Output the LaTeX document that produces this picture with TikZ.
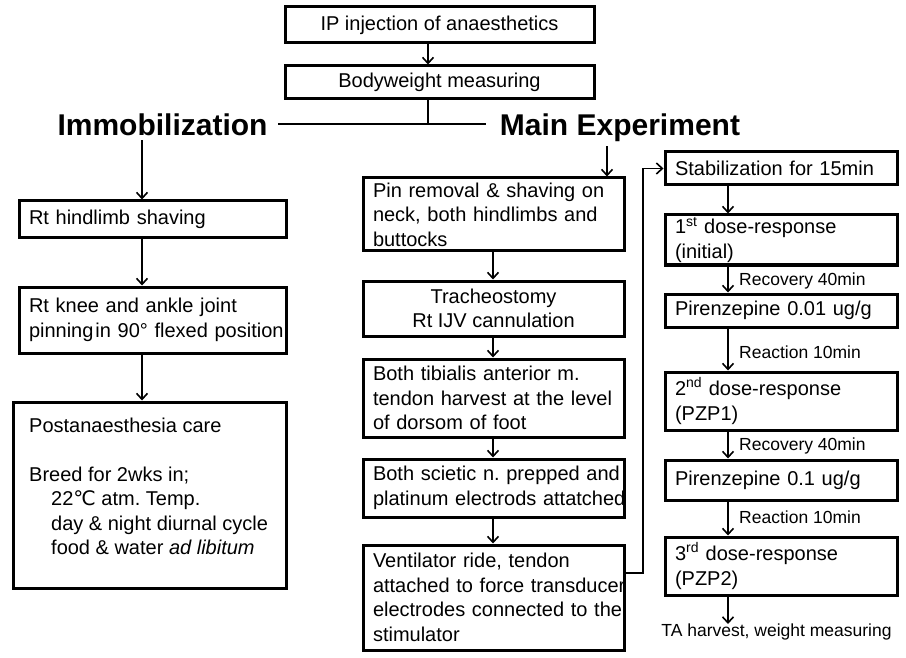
\documentclass[tikz,border=0pt]{standalone}
\usepackage{fontspec}
\setmainfont{Liberation Sans}
\newfontfamily\dejavu{DejaVu Sans}
\usetikzlibrary{arrows.meta}
\newcommand{\lineof}[1]{\mbox{#1}}
\frenchspacing
\begin{document}
\begin{tikzpicture}[x=1pt,y=-1pt,
  bodyfont/.style={font=\fontsize{20}{24.5}\selectfont},
  box/.style={draw, line width=3pt, inner xsep=10pt, inner ysep=0pt, bodyfont},
  cbox/.style={box, align=center},
  lbox/.style={box, align=left, text width=#1},
  head/.style={font=\fontsize{30}{36}\selectfont\bfseries, inner sep=4pt},
  txt/.style={bodyfont, align=left, inner sep=0pt},
  lab/.style={font=\fontsize{17.5}{21}\selectfont, inner sep=0pt},
  conn/.style={line width=1.8pt},
  arr/.style={conn, -{Straight Barb[length=6pt,width=11pt,line width=1.6pt]}}
]
\useasboundingbox (0,0) rectangle (906,658);

% top
\node[cbox, minimum width=309pt, minimum height=36pt] (ip) at (439.5,25) {IP injection of anaesthetics};
\node[cbox, minimum width=309pt, minimum height=33pt] (bw) at (439.5,82.5) {Bodyweight measuring};
\node[head, anchor=base] (imm) at (162.5,136) {Immobilization};
\node[head, anchor=base] (main) at (620,136) {Main Experiment};

% left column
\node[lbox=247pt, minimum height=37pt] (hind) at (152.5,219.5) {\lineof{Rt hindlimb shaving}};
\node[lbox=247pt, minimum height=66pt] (knee) at (152.5,320) {\lineof{Rt knee and ankle joint}\\\lineof{pinning\hspace{2pt}in 90° flexed position}};
\node[box, minimum width=273pt, minimum height=186pt] (post) at (149.5,495) {};
\node[txt, anchor=north west] (posttxt) at (29,418) {Postanaesthesia care\\[24pt]
Breed for 2wks in;\\
\hspace*{22pt}22{\dejavu ℃} atm. Temp.\\
\hspace*{22pt}day \& night diurnal cycle\\
\hspace*{22pt}food \& water \textit{ad libitum}};

% middle column
\node[lbox=241pt, minimum height=73pt] (pin) at (493.5,214.5) {\lineof{Pin removal \& shaving on}\\\lineof{neck, both hindlimbs and}\\\lineof{buttocks}};
\node[cbox, minimum width=261pt, minimum height=55pt] (trach) at (493.5,308.5) {Tracheostomy\\Rt IJV cannulation};
\node[lbox=241pt, minimum height=78pt] (tib) at (493.5,398) {\lineof{Both tibialis anterior m.}\\\lineof{tendon harvest at the level}\\\lineof{of dorsom of foot}};
\node[lbox=241pt, minimum height=58pt] (sci) at (493.5,488) {\lineof{Both scietic n. prepped and}\\\lineof{platinum electrods attatched}};
\node[lbox=241pt, minimum height=105pt] (vent) at (493.5,597.5) {\lineof{Ventilator ride, tendon}\\\lineof{attached to force transducer}\\\lineof{electrodes connected to the}\\\lineof{stimulator}};

% right column
\node[lbox=212pt, minimum height=33pt] (stab) at (781,168.5) {\lineof{Stabilization for 15min}};
\node[lbox=212pt, minimum height=50pt] (d1) at (781,240) {\lineof{1\textsuperscript{st} dose-response}\\\lineof{(initial)}};
\node[lbox=212pt, minimum height=33pt] (p1) at (781,310.5) {\lineof{Pirenzepine 0.01 ug/g}};
\node[lbox=212pt, minimum height=58pt] (d2) at (781,401) {\lineof{2\textsuperscript{nd} dose-response}\\\lineof{(PZP1)}};
\node[lbox=212pt, minimum height=40pt] (p2) at (781,480) {\lineof{Pirenzepine 0.1 ug/g}};
\node[lbox=212pt, minimum height=58pt] (d3) at (781,566) {\lineof{3\textsuperscript{rd} dose-response}\\\lineof{(PZP2)}};
\node[lab, anchor=north] (ta) at (776.5,624) {TA harvest, weight measuring};

\node[lab, anchor=west] (rec1) at (739,281) {Recovery 40min};
\node[lab, anchor=west] (rea1) at (739,352) {Reaction 10min};
\node[lab, anchor=west] (rec2) at (739,446) {Recovery 40min};
\node[lab, anchor=west] (rea2) at (739,517) {Reaction 10min};

% helper coordinates
\coordinate (tx) at (428,0);
\coordinate (lx) at (142,0);
\coordinate (ax) at (607,0);
\coordinate (mx) at (493,0);
\coordinate (rx) at (728,0);
\coordinate (hl) at (278,124);
\coordinate (hr) at (486,124);
\coordinate (lp) at (643,573);

% connectors
\draw[arr] (ip.south -| tx) -- (bw.north -| tx);
\draw[conn] (bw.south -| tx) -- (hl -| tx);
\draw[conn] (hl) -- (hr);

\draw[arr] (imm.south -| lx) -- (hind.north -| lx);
\draw[arr] (hind.south -| lx) -- (knee.north -| lx);
\draw[arr] (knee.south -| lx) -- (post.north -| lx);

\draw[arr] (main.south -| ax) -- (pin.north -| ax);
\draw[arr] (pin.south -| mx) -- (trach.north -| mx);
\draw[arr] (trach.south -| mx) -- (tib.north -| mx);
\draw[arr] (tib.south -| mx) -- (sci.north -| mx);
\draw[arr] (sci.south -| mx) -- (vent.north -| mx);

\draw[arr] (vent.east |- lp) -- (lp) |- (stab.west);

\draw[arr] (stab.south -| rx) -- (d1.north -| rx);
\draw[arr] (d1.south -| rx) -- (p1.north -| rx);
\draw[arr] (p1.south -| rx) -- (d2.north -| rx);
\draw[arr] (d2.south -| rx) -- (p2.north -| rx);
\draw[arr] (p2.south -| rx) -- (d3.north -| rx);
\draw[arr] (d3.south -| rx) -- (ta.north -| rx);
\end{tikzpicture}
\end{document}
